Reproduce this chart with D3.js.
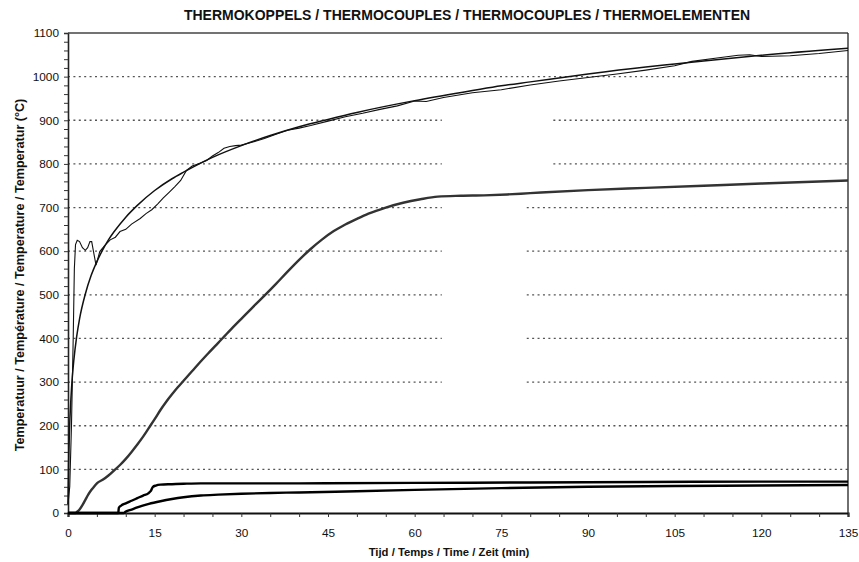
<!DOCTYPE html>
<html>
<head>
<meta charset="utf-8">
<script src="https://cdn.jsdelivr.net/npm/d3@7"></script>
<style>
  body { margin: 0; background: #fff; }
  svg text { font-family: "Liberation Sans", Arial, sans-serif; fill: #111; }
</style>
</head>
<body>
<svg id="chart" width="859" height="562"></svg>
<script>
// furnace: standard curve
var isoCurve = [[0,20],[0.1,108],[0.25,185],[0.5,261],[0.75,312],[1,349],[1.5,404],[2,445],[3,502],[4,544],[5,576],[6,603],[7,626],[8,645],[10,678],[12,705],[15,739],[18,766],[20,781],[25,815],[30,842],[35,865],[40,885],[45,902],[50,918],[60,945],[70,968],[75,979],[80,988],[90,1006],[100,1022],[105,1029],[110,1036],[120,1049],[135,1065]];

// furnace: measured
var furnace = [[0,20],[0.3,60],[0.6,200],[0.9,400],[1.1,560],[1.3,615],[1.6,625],[2.0,622],[2.5,608],[3.0,602],[3.4,608],[3.8,622],[4.1,622],[4.4,600],[4.85,568],[5.1,580],[5.5,599],[6.3,612],[7.3,626],[8.2,632],[9,645],[10,650],[11,662],[12.5,675],[13.5,686],[14.5,695],[15.5,708],[16.5,722],[17.5,735],[18.5,748],[19.5,762],[20.5,785],[21.5,795],[22.5,800],[24,808],[25,818],[26,826],[27,836],[28,840],[29,842],[30,843],[32,850],[34,858],[36,868],[38,877],[40,882],[42,888],[45,898],[48,908],[51,916],[54,925],[57,933],[60,944],[62,943],[65,952],[70,963],[75,970],[80,981],[85,990],[90,998],[95,1006],[100,1015],[105,1025],[108,1035],[112,1042],[116,1049],[118,1050],[120,1046],[125,1048],[130,1053],[135,1060]];

// specimen thermocouples
var tcSteel = [[0,0],[1.3,0],[1.5,2],[2,8],[2.5,18],[3,30],[3.5,42],[4,52],[4.5,60],[5,68],[6,76],[7,86],[8,98],[9,110],[10,124],[11,140],[12,157],[13,175],[14,195],[15,215],[16,236],[17,255],[18,272],[19,288],[20,303],[22,333],[24,362],[26,390],[28,418],[30,445],[32,472],[34,498],[36,525],[38,553],[40,580],[42,605],[44,627],[46,646],[48,661],[50,674],[52,686],[55,700],[58,711],[61,719],[64,725],[68,727],[72,728],[76,730],[80,733],[90,740],[100,745],[110,750],[120,755],[135,762]];
var tcA = [[0,0],[8.7,0],[8.8,12],[9.2,17],[10,22],[11,28],[12,34],[13,40],[13.9,45],[14.3,50],[14.7,60],[15.2,63],[16,65],[18,66],[20,67],[23,68],[30,68],[40,68],[60,69],[80,70],[100,71],[120,72],[135,72]];
var tcB = [[0,0],[9.6,0],[10,3],[11,8],[12,13],[14,21],[16,27],[18,32],[20,36],[23,40],[26,42],[30,44],[35,46],[40,47],[50,50],[60,53],[75,57],[90,60],[105,62],[120,63],[135,64]];

var xTicks = [0,15,30,45,60,75,90,105,120,135];
var yTicks = [0,100,200,300,400,500,600,700,800,900,1000,1100];
var gridLevels = [100,200,300,400,500,600,700,800,900,1000];
// parts of grid lines that are missing in the scan (minutes)
var gridGaps = {900:[64.7,84], 800:[64.7,84], 700:[64.7,79.4], 600:[64.7,79.4], 500:[64.7,79.4], 400:[64.7,79.4], 300:[64.7,79.4]};

var svg = d3.select("#chart");
var x = d3.scaleLinear().domain([0,135]).range([68,848]);
var y = d3.scaleLinear().domain([0,1100]).range([513,33]);

// grid
gridLevels.forEach(function(v) {
	var segs = [[0,135]];
	if (gridGaps[v]) segs = [[0,gridGaps[v][0]],[gridGaps[v][1],135]];
	segs.forEach(function(s) {
		svg.append("line")
			.attr("x1", x(s[0])).attr("x2", x(s[1]))
			.attr("y1", y(v)).attr("y2", y(v))
			.attr("stroke", "#555").attr("stroke-width", 1.3)
			.attr("stroke-dasharray", "2,3.4");
	});
});

// axes
var yAxis = svg.append("g").attr("transform", "translate(" + x(0) + ",0)")
	.call(d3.axisLeft(y).tickValues(d3.range(0,1101,20)).tickSize(4).tickFormat(function(d) {
		return yTicks.indexOf(d) >= 0 ? d : "";
	}));
yAxis.selectAll("text").attr("font-size", 11.8).attr("dx", -2).style("font-family", "Liberation Sans, Arial, sans-serif");
yAxis.select(".domain").attr("stroke-width", 1.6).attr("stroke", "#222");
yAxis.selectAll(".tick line").attr("stroke", "#333");

var xAxis = svg.append("g").attr("transform", "translate(0," + y(0) + ")")
	.call(d3.axisBottom(x).tickValues(d3.range(0,136,5)).tickSize(4).tickFormat(function(d) {
		return xTicks.indexOf(d) >= 0 ? d : "";
	}));
xAxis.selectAll("text").attr("font-size", 11.8).attr("dy", "1.4em").style("font-family", "Liberation Sans, Arial, sans-serif");
xAxis.select(".domain").attr("stroke-width", 2.2).attr("stroke", "#111");
xAxis.selectAll(".tick line").attr("stroke", "#333");

// frame top / right
svg.append("line").attr("x1", x(0)).attr("x2", x(135)).attr("y1", y(1100)).attr("y2", y(1100))
	.attr("stroke", "#444").attr("stroke-width", 1.6);
svg.append("line").attr("x1", x(135)).attr("x2", x(135)).attr("y1", y(1100)).attr("y2", y(0))
	.attr("stroke", "#222").attr("stroke-width", 1.3);

var line = d3.line().x(function(d) { return x(d[0]); }).y(function(d) { return y(d[1]); }).curve(d3.curveMonotoneX);

svg.append("path").datum(tcSteel).attr("d", line).attr("fill", "none")
	.attr("stroke", "#333").attr("stroke-width", 2.4);
svg.append("path").datum(tcB).attr("d", line).attr("fill", "none")
	.attr("stroke", "#000").attr("stroke-width", 2.4);
svg.append("path").datum(tcA).attr("d", line).attr("fill", "none")
	.attr("stroke", "#000").attr("stroke-width", 2.4);
svg.append("path").datum(isoCurve).attr("d", line).attr("fill", "none")
	.attr("stroke", "#111").attr("stroke-width", 1.5);
svg.append("path").datum(furnace).attr("d", d3.line().x(function(d) { return x(d[0]); }).y(function(d) { return y(d[1]); }))
	.attr("fill", "none").attr("stroke", "#111").attr("stroke-width", 1.1);

// titles
svg.append("text").attr("x", 467).attr("y", 20).attr("text-anchor", "middle")
	.attr("font-size", 14).attr("font-weight", "bold")
	.text("THERMOKOPPELS / THERMOCOUPLES / THERMOCOUPLES / THERMOELEMENTEN");
svg.append("text").attr("x", 449).attr("y", 556).attr("text-anchor", "middle")
	.attr("font-size", 11.3).attr("font-weight", "bold")
	.text("Tijd / Temps / Time / Zeit (min)");
svg.append("text").attr("transform", "translate(24,275) rotate(-90)").attr("text-anchor", "middle")
	.attr("font-size", 12.6).attr("font-weight", "bold")
	.text("Temperatuur / Température / Temperature / Temperatur (°C)");
</script>
</body>
</html>
